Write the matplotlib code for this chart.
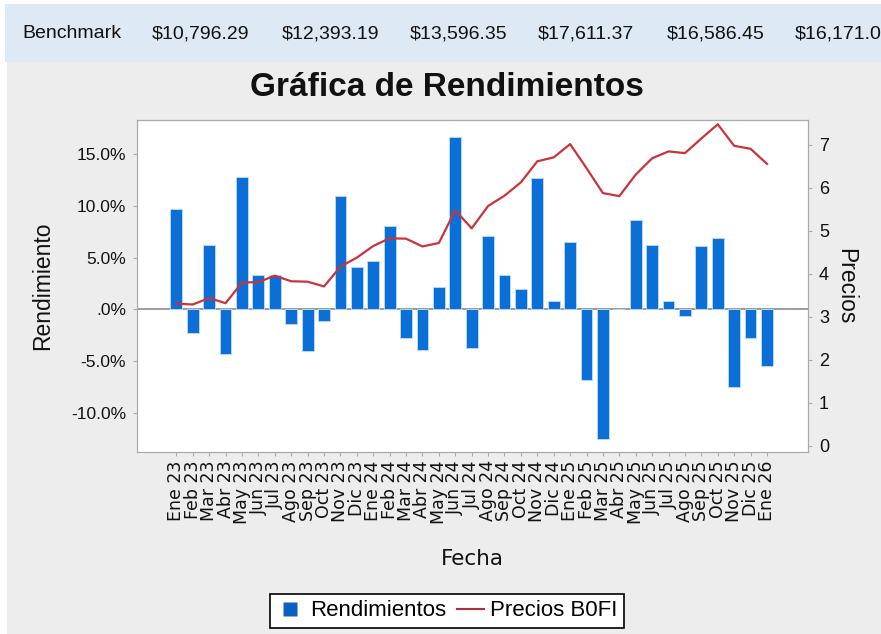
import matplotlib
matplotlib.use("Agg")
import matplotlib.pyplot as plt
from matplotlib.patches import Rectangle
from matplotlib.lines import Line2D

# ---- data ----
months = ["Ene 23", "Feb 23", "Mar 23", "Abr 23", "May 23", "Jun 23", "Jul 23", "Ago 23",
          "Sep 23", "Oct 23", "Nov 23", "Dic 23", "Ene 24", "Feb 24", "Mar 24", "Abr 24",
          "May 24", "Jun 24", "Jul 24", "Ago 24", "Sep 24", "Oct 24", "Nov 24", "Dic 24",
          "Ene 25", "Feb 25", "Mar 25", "Abr 25", "May 25", "Jun 25", "Jul 25", "Ago 25",
          "Sep 25", "Oct 25", "Nov 25", "Dic 25", "Ene 26"]
rendimientos = [9.7, -2.3, 6.2, -4.35, 12.8, 3.3, 3.35, -1.4, -4.0, -1.15, 11.0, 4.1, 4.7,
                8.05, -2.8, -3.9, 2.2, 16.7, -3.7, 7.1, 3.35, 1.95, 12.7, 0.8, 6.5, -6.8,
                -12.5, 0.05, 8.6, 6.25, 0.8, -0.65, 6.1, 6.9, -7.5, -2.75, -5.5]
precios = [3.31, 3.29, 3.44, 3.32, 3.80, 3.81, 3.96, 3.83, 3.82, 3.71, 4.17, 4.38, 4.65,
           4.83, 4.82, 4.64, 4.72, 5.48, 5.06, 5.58, 5.82, 6.13, 6.62, 6.71, 7.02, 6.46,
           5.88, 5.81, 6.31, 6.69, 6.85, 6.81, 7.15, 7.48, 6.98, 6.91, 6.56]
banner_label = "Benchmark"
banner_values = ["$10,796.29", "$12,393.19", "$13,596.35", "$17,611.37", "$16,586.45", "$16,171.0"]
left_ticks = [-10, -5, 0, 5, 10, 15]
left_ticklabels = ["-10.0%", "-5.0%", ".0%", "5.0%", "10.0%", "15.0%"]
right_ticks = [0, 1, 2, 3, 4, 5, 6, 7]

W, H = 881, 634
fig = plt.figure(figsize=(W / 100, H / 100), dpi=100)
fig.patch.set_facecolor("white")

# backgrounds
fig.patches.append(Rectangle((5 / W, 1 - 62 / H), 1 - 5 / W, 58 / H, transform=fig.transFigure,
                             facecolor="#dde9f5", edgecolor="none", zorder=-10))
fig.patches.append(Rectangle((7 / W, 0), 1 - 7 / W, 1 - 62 / H, transform=fig.transFigure,
                             facecolor="#ededed", edgecolor="none", zorder=-10))

# banner text
sans = ["Liberation Sans", "DejaVu Sans"]
banner_x = [22, 152, 282, 410, 538, 667, 795]
for x, t in zip(banner_x, [banner_label] + banner_values):
    fig.text(x / W, 1 - 34 / H, t, ha="left", va="center", fontsize=14, family=sans, color="#111111")

# title
fig.text(447 / W, 1 - 88 / H, "Gráfica de Rendimientos", ha="center", va="center",
         fontsize=24, fontweight="bold", family=sans, color="#111111")

ax = fig.add_axes([137 / W, 1 - 452 / H, (808 - 137) / W, (452 - 120) / H])
ax.set_facecolor("white")
x = list(range(len(months)))
ax.bar(x, rendimientos, width=0.72, color="#0a6fd6", edgecolor="#b9d5f2", linewidth=0.7, zorder=3)
ax.axhline(0, color="#8a8a8a", linewidth=1.2, zorder=2)
ax.set_xlim(-2.4, len(months) - 1 + 2.5)
ax.set_ylim(-13.8, 18.3)
ax.set_yticks(left_ticks)
ax.set_yticklabels(left_ticklabels, family=sans, fontsize=12.5)
ax.set_xticks(x)
ax.set_xticklabels(months, rotation=90, family="DejaVu Sans", fontsize=12.5)
for s in ax.spines.values():
    s.set_color("#aaaaaa")
ax.tick_params(axis="y", colors="#aaaaaa", labelcolor="#111111", length=3, pad=5)
ax.tick_params(axis="x", colors="#aaaaaa", labelcolor="#111111", length=3, pad=3)
ax.set_ylabel("Rendimiento", family=sans, fontsize=16.5, color="#111111", labelpad=12)
ax.set_xlabel("Fecha", family="DejaVu Sans", fontsize=15.5, color="#111111", labelpad=18)

ax2 = ax.twinx()
ax2.plot(x, precios, color="#c8343a", linewidth=1.6, zorder=4)
ax2.set_ylim(-0.14, 7.58)
ax2.set_yticks(right_ticks)
ax2.set_yticklabels([str(v) for v in right_ticks], family=sans, fontsize=13)
ax2.tick_params(axis="y", colors="#aaaaaa", labelcolor="#111111", length=3, pad=5)
for s in ax2.spines.values():
    s.set_color("#aaaaaa")
ax2.set_ylabel("Precios", family=sans, fontsize=16.5, color="#111111", rotation=-90, labelpad=20)

handles = [Line2D([0], [0], linestyle="none", marker="s", markersize=10, markerfacecolor="#0a5fc0",
                  markeredgecolor="none", label="Rendimientos"),
           Line2D([0], [0], color="#b03038", linewidth=1.5, label="Precios B0FI")]
leg = fig.legend(handles=handles, loc="center", bbox_to_anchor=(447 / W, 1 - 611 / H), ncol=2,
                 frameon=True, fancybox=False, edgecolor="black", facecolor="white", framealpha=1,
                 prop={"family": sans, "size": 16}, handlelength=1.2,
                 handletextpad=0.3, columnspacing=0.5, borderpad=0.3, borderaxespad=0)
leg.get_frame().set_linewidth(1.2)

fig.savefig("out.png", dpi=100)
